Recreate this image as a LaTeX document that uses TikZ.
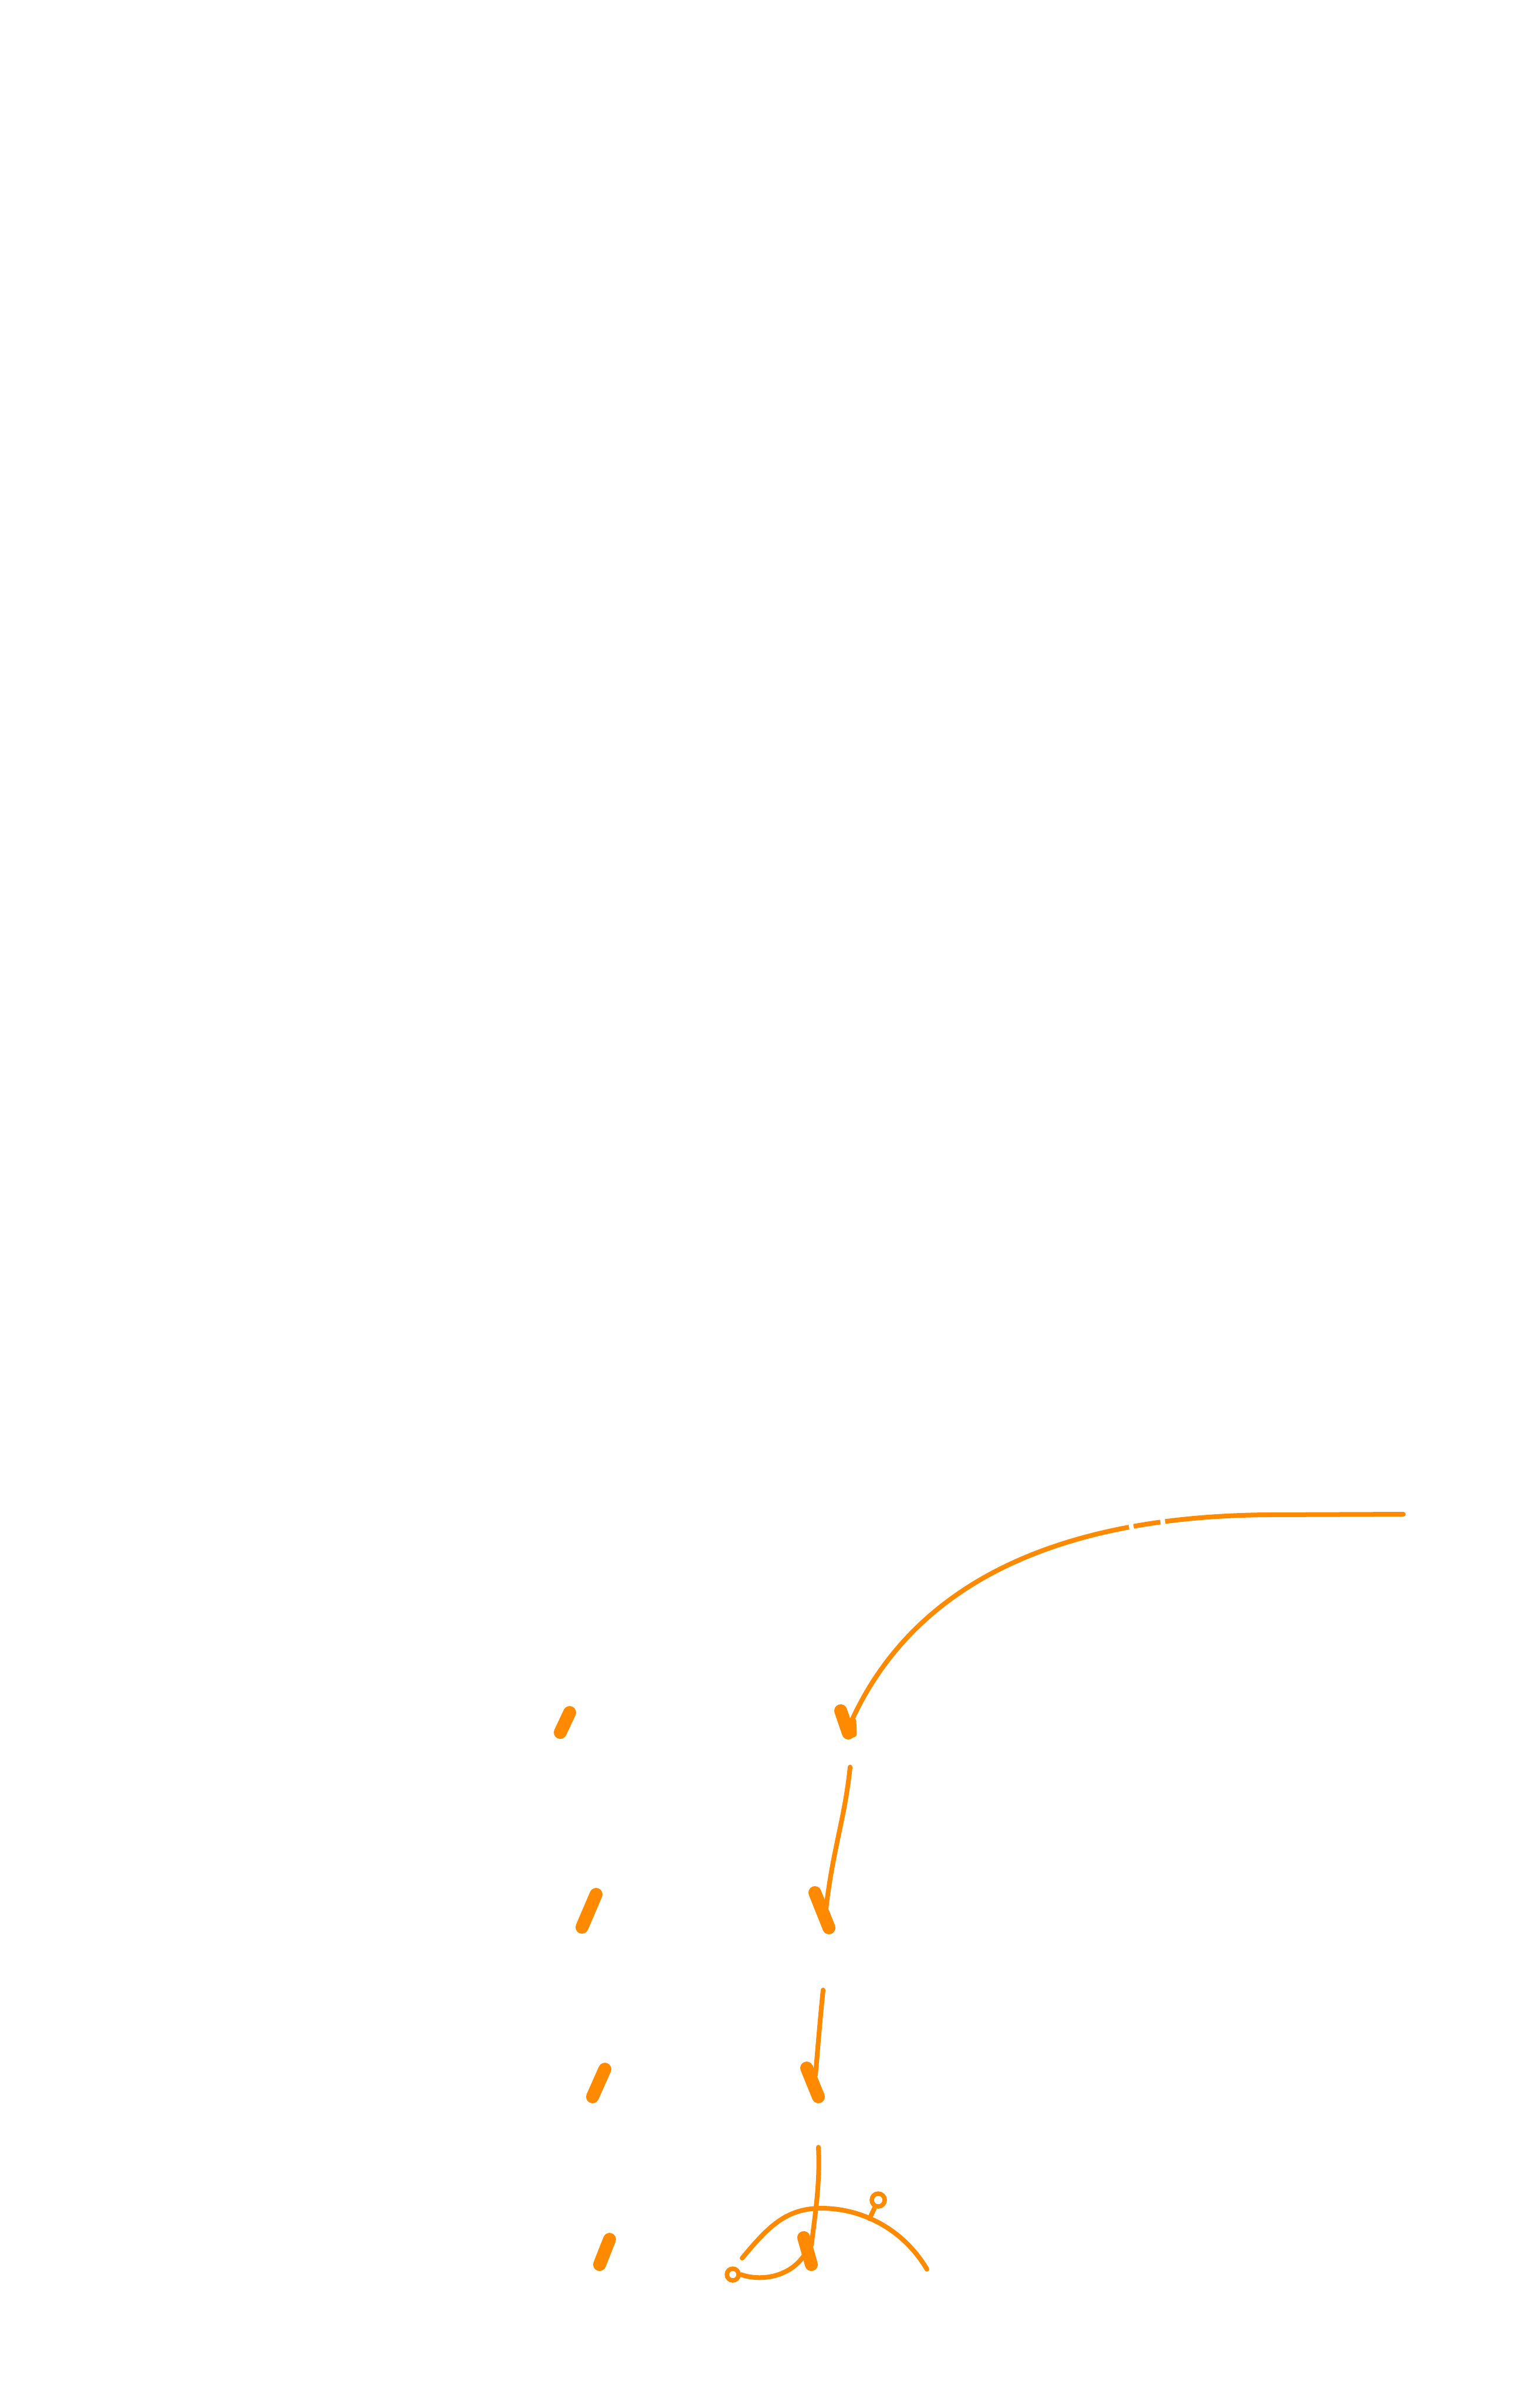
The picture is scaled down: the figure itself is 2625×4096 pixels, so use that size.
\documentclass[tikz,border=0pt]{standalone}
\begin{document}
\begin{tikzpicture}[x=0.01cm,y=-0.01cm,
  ink/.style={draw=skorange,line cap=round,line join=round},
  thinline/.style={ink,line width=0.08cm},
  barb/.style={ink,line width=0.22cm},
  ringdot/.style={draw=skorange,line width=0.075cm,fill=white},
  gapcut/.style={draw=white,line width=0.08cm}]
\definecolor{skorange}{HTML}{FF8A00}
\useasboundingbox[fill=white] (0,0) rectangle (2625,4096);

% main curved arrow
\coordinate (mstart) at (2392,2581);
\coordinate (mbend) at (2160,2582);
\coordinate (mend) at (1453,2930);
\draw[thinline] (mstart) -- (mbend) .. controls (1800,2585) and (1560,2700) .. (mend);
\draw[gapcut] (1927,2594) -- (1931,2620);
\draw[gapcut] (1981,2586) -- (1984,2610);
\draw[barb] (1433,2916) -- (1446,2954);
\draw[ink,line width=0.13cm] (1453,2934) -- (1454,2955);

% right column arrows
\coordinate (a1s) at (1449,3012);
\coordinate (a1e) at (1408,3253);
\draw[thinline] (a1s) .. controls (1440,3100) and (1420,3150) .. (a1e);
\draw[barb] (1389,3226) -- (1413,3286);

\coordinate (a2s) at (1403,3392);
\coordinate (a2e) at (1390,3537);
\draw[thinline] (a2s) .. controls (1399,3430) and (1394,3490) .. (a2e);
\draw[barb] (1375,3525) -- (1395,3574);

\coordinate (a3s) at (1395,3660);
\coordinate (a3e) at (1383,3827);
\draw[thinline] (a3s) .. controls (1398,3720) and (1390,3770) .. (a3e);
\draw[barb] (1370,3814) -- (1383,3860);

% bottom arc with handles
\coordinate (arcl) at (1265,3849);
\coordinate (arctop) at (1400,3764);
\coordinate (arcr) at (1580,3868);
\draw[thinline] (arcl) .. controls (1310,3795) and (1340,3764) .. (arctop) .. controls (1470,3764) and (1540,3800) .. (arcr);
\coordinate (stemb) at (1482,3782);
\node[circle,minimum size=0.22cm,inner sep=0pt,ringdot] (hr) at (1497,3750) {};
\draw[thinline] (stemb) -- (hr);
\node[circle,minimum size=0.2cm,inner sep=0pt,ringdot] (hl) at (1249,3877) {};
\coordinate (hlend) at (1377,3833);
\draw[thinline] (hl.east) .. controls (1300,3890) and (1355,3880) .. (hlend);

% left column barbs
\draw[barb] (971,2919) -- (955,2953);
\draw[barb] (1016,3229) -- (992,3285);
\draw[barb] (1031,3527) -- (1010,3574);
\draw[barb] (1039,3817) -- (1022,3860);
\end{tikzpicture}
\end{document}
